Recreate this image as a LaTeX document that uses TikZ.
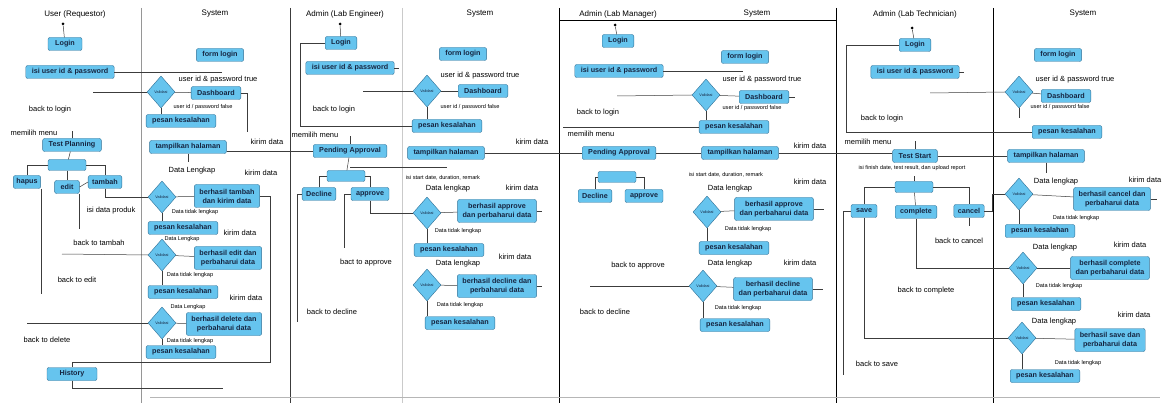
\documentclass[tikz,border=0pt]{standalone}
\usepackage{fontspec}
\setmainfont{Liberation Sans}
\usepackage{tikz}
\usetikzlibrary{shapes,arrows,positioning}

\definecolor{actfill}{RGB}{102,196,238}
\definecolor{actline}{RGB}{48,112,150}
\definecolor{acttext}{RGB}{22,38,66}
\definecolor{flowline}{RGB}{60,60,60}
\definecolor{lanegray}{RGB}{150,150,150}

\tikzset{
    act/.style={rectangle, rounded corners=2pt, draw=actline, fill=actfill, text=acttext,
        font=\bfseries\fontsize{7.2}{8}\selectfont, inner xsep=6pt, inner ysep=2pt, minimum height=13pt},
    acttwo/.style={act, align=center, font=\bfseries\fontsize{7.2}{9}\selectfont, inner xsep=5pt, minimum height=23pt},
    forkbar/.style={act, minimum width=38pt, minimum height=11pt},
    validasi/.style={diamond, draw=actline, fill=actfill, text=acttext, minimum width=28pt,
        minimum height=32pt, inner sep=0pt, font=\fontsize{3.8}{4}\selectfont},
    lanehead/.style={font=\fontsize{8}{9}\selectfont, inner sep=1pt},
    lbl/.style={font=\fontsize{7.5}{8.5}\selectfont, inner sep=1pt},
    smalltxt/.style={font=\fontsize{5.6}{6}\selectfont, inner sep=0.5pt},
    flow/.style={draw=flowline, line width=0.5pt},
    startdot/.style={circle, fill=black, inner sep=0pt, minimum size=3pt}
}

\begin{document}
\begin{tikzpicture}[x=1pt, y=-1pt, >=stealth]

                \useasboundingbox (0,0) rectangle (1174,403);

                % Lajur
                \draw[lanegray] (141,8) -- (141,403);
                \draw[flowline] (290,8) -- (290,403);
                \draw[lanegray!50] (402,8) -- (402,403);
                \draw[black, line width=0.8pt] (559,8) -- (559,403);
                \draw[black] (836,8) -- (836,403);
                \draw[black] (993,8) -- (993,403);
                \draw[black] (559,20) -- (836,20);
                \draw[lanegray!70] (150,397) -- (1160,397);

                \node[lanehead] (hUser) at (75,14) {User (Requestor)};
                \node[lanehead] (hSys1) at (215,14) {System};
                \node[lanehead] (hEng) at (345,14) {Admin (Lab Engineer)};
                \node[lanehead] (hSys2) at (480,14) {System};
                \node[lanehead] (hMan) at (618,14) {Admin (Lab Manager)};
                \node[lanehead] (hSys3) at (757,14) {System};
                \node[lanehead] (hTech) at (915,14) {Admin (Lab Technician)};
                \node[lanehead] (hSys4) at (1083,14) {System};

                % User (Requestor)
                \node[startdot] (s1) at (63,24) {};
                \node[act, minimum width=34pt] (login1) at (65,44) {Login};
                \node[act] (isi1) at (70,72) {isi user id \& password};
                \node[lbl] (backlogin1) at (50,110) {back to login};
                \node[lbl] (menu1) at (34,133) {memilih menu};
                \node[act] (tp1) at (72,145) {Test Planning};
                \node[forkbar] (fork1) at (67,165) {};
                \node[act, inner xsep=3pt] (hapus) at (27,182) {hapus};
                \node[act] (edit) at (67,187) {edit};
                \node[act, inner xsep=4pt] (tambah) at (105,182) {tambah};
                \node[lbl] (isiproduk) at (111,211) {isi data produk};
                \node[lbl] (backtambah) at (99,243) {back to tambah};
                \node[lbl] (backedit) at (77,280) {back to edit};
                \node[lbl] (backdelete) at (47,340) {back to delete};
                \node[act, minimum width=50pt] (hist) at (72,374) {History};

                % System (User)
                \node[act] (flog1) at (220,55) {form login};
                \node[lbl] (true1) at (218,80) {user id \& password true};
                \node[validasi] (val1) at (161,92) {Validasi};
                \node[act] (dash1) at (216,93) {Dashboard};
                \node[smalltxt] (false1) at (203,107) {user id / password false};
                \node[act] (pes1) at (181,121) {pesan kesalahan};
                \node[act] (tamp1) at (188,147) {tampilkan halaman};
                \node[lbl] (kirim1) at (267,142) {kirim data};
                \node[lbl] (lengkap1) at (192,171) {Data Lengkap};
                \node[lbl] (kirim2) at (261,173) {kirim data};
                \node[validasi] (val2) at (162,197) {Validasi};
                \node[acttwo] (bt) at (227,196) {berhasil tambah\\dan kirim data};
                \node[smalltxt] (tidak2) at (195,212) {Data tidak lengkap};
                \node[act] (pes2) at (183,228) {pesan kesalahan};
                \node[lbl] (kirim3) at (240,233) {kirim data};
                \node[smalltxt] (lengkap3) at (182,239) {Data Lengkap};
                \node[validasi] (val3) at (162,255) {Validasi};
                \node[acttwo] (be) at (228,258) {berhasil edit dan\\perbaharui data};
                \node[smalltxt] (tidak3) at (190,275) {Data tidak lengkap};
                \node[act] (pes3) at (183,292) {pesan kesalahan};
                \node[lbl] (kirim4) at (246,298) {kirim data};
                \node[smalltxt] (lengkap4) at (188,307) {Data Lengkap};
                \node[validasi] (val4) at (162,323) {Validasi};
                \node[acttwo] (bd) at (224,324) {berhasil delete dan\\perbaharui data};
                \node[smalltxt] (tidak4) at (190,341) {Data tidak lengkap};
                \node[act] (pes4) at (181,352) {pesan kesalahan};

                % Admin (Lab Engineer)
                \node[startdot] (s3) at (340,24) {};
                \node[act] (login3) at (341,43) {Login};
                \node[act] (isi3) at (350,68) {isi user id \& password};
                \node[lbl] (backlogin3) at (334,110) {back to login};
                \node[lbl] (menu3) at (315,135) {memilih menu};
                \node[act] (pend2) at (350,151) {Pending Approval};
                \node[forkbar] (fork3) at (346,176) {};
                \node[act, inner xsep=4pt] (dec3) at (319,194) {Decline};
                \node[act, inner xsep=5pt] (appr3) at (370,194) {approve};
                \node[lbl] (backappr3) at (366,263) {bact to approve};
                \node[lbl] (backdec3) at (332,312) {back to decline};

                % System (Lab Engineer)
                \node[act] (flog4) at (463,54) {form login};
                \node[lbl] (true4) at (480,76) {user id \& password true};
                \node[validasi] (val4a) at (427,91) {Validasi};
                \node[act] (dash4) at (483,91) {Dashboard};
                \node[smalltxt] (false4) at (470,107) {user id / password false};
                \node[act] (pes4a) at (447,126) {pesan kesalahan};
                \node[act] (tamp4) at (446,153) {tampilkan halaman};
                \node[lbl] (kirim5) at (532,142) {kirim data};
                \node[smalltxt] (isistart4) at (443,178) {isi start date, duration, remark};
                \node[lbl] (lengkap5) at (448,189) {Data lengkap};
                \node[lbl] (kirim6) at (522,188) {kirim data};
                \node[validasi] (val5) at (427,213) {Validasi};
                \node[acttwo] (ba5) at (497,211) {berhasil approve\\dan perbaharui data};
                \node[smalltxt] (tidak5) at (458,231) {Data tidak lengkap};
                \node[act] (pes5) at (449,250) {pesan kesalahan};
                \node[lbl] (kirim7) at (515,257) {kirim data};
                \node[lbl] (lengkap6) at (458,264) {Data lengkap};
                \node[validasi] (val6) at (427,285) {Validasi};
                \node[acttwo] (bdc6) at (497,286) {berhasil decline dan\\perbaharui data};
                \node[smalltxt] (tidak6) at (460,305) {Data tidak lengkap};
                \node[act] (pes6) at (460,323) {pesan kesalahan};

                % Admin (Lab Manager)
                \node[startdot] (s5) at (615,25) {};
                \node[act] (login5) at (618,41) {Login};
                \node[act] (isi5) at (619,71) {isi user id \& password};
                \node[lbl] (backlogin5) at (598,113) {back to login};
                \node[lbl] (menu5) at (591,134) {memilih menu};
                \node[act] (pend5) at (619,153) {Pending Approval};
                \node[forkbar] (fork5) at (617,177) {};
                \node[act, inner xsep=4pt] (dec5) at (595,196) {Decline};
                \node[act, inner xsep=5pt] (appr5) at (644,196) {approve};
                \node[lbl] (backappr5) at (638,266) {back to approve};
                \node[lbl] (backdec5) at (605,312) {back to decline};

                % System (Lab Manager)
                \node[act] (flog5) at (745,57) {form login};
                \node[lbl] (true5) at (762,80) {user id \& password true};
                \node[validasi] (val7) at (706,95) {Validasi};
                \node[act] (dash7) at (764,97) {Dashboard};
                \node[smalltxt] (false7) at (752,108) {user id / password false};
                \node[act] (pes7) at (734,127) {pesan kesalahan};
                \node[act] (tamp7) at (740,153) {tampilkan halaman};
                \node[lbl] (kirim8) at (810,146) {kirim data};
                \node[smalltxt] (isistart7) at (726,175) {isi start date, duration, remark};
                \node[lbl] (lengkap8) at (730,189) {Data lengkap};
                \node[lbl] (kirim9) at (810,182) {kirim data};
                \node[validasi] (val8) at (707,212) {Validasi};
                \node[acttwo] (ba8) at (774,209) {berhasil approve\\dan perbaharui data};
                \node[smalltxt] (tidak8) at (748,229) {Data tidak lengkap};
                \node[act] (pes8) at (734,248) {pesan kesalahan};
                \node[lbl] (kirim10) at (800,263) {kirim data};
                \node[lbl] (lengkap9) at (730,264) {Data lengkap};
                \node[validasi] (val9) at (703,286) {Validasi};
                \node[acttwo] (bdc9) at (773,289) {berhasil decline\\dan perbaharui data};
                \node[smalltxt] (tidak9) at (738,308) {Data tidak lengkap};
                \node[act] (pes9) at (735,325) {pesan kesalahan};

                % Admin (Lab Technician)
                \node[startdot] (s6) at (912,28) {};
                \node[act] (login6) at (915,45) {Login};
                \node[act] (isi6) at (915,72) {isi user id \& password};
                \node[lbl] (backlogin6) at (882,119) {back to login};
                \node[lbl] (menu6) at (868,142) {memilih menu};
                \node[act] (tstart) at (915,156) {Test Start};
                \node[smalltxt] (isifinish) at (912,168) {isi finish date, test result, dan upload report};
                \node[forkbar] (fork6) at (914,187) {};
                \node[act, inner xsep=5pt] (save) at (864,211) {save};
                \node[act, inner xsep=5pt] (compl) at (916,212) {complete};
                \node[act, inner xsep=4pt] (cancel) at (969,211) {cancel};
                \node[lbl] (backcancel) at (959,241) {back to cancel};
                \node[lbl] (backcompl) at (926,291) {back to complete};
                \node[lbl] (backsave) at (877,364) {back to save};

                % System (Lab Technician)
                \node[act] (flog10) at (1058,55) {form login};
                \node[lbl] (true10) at (1075,80) {user id \& password true};
                \node[validasi] (val10) at (1019,92) {Validasi};
                \node[act] (dash10) at (1066,96) {Dashboard};
                \node[smalltxt] (false10) at (1060,107) {user id / password false};
                \node[act] (pes10) at (1067,132) {pesan kesalahan};
                \node[act] (tamp10) at (1046,156) {tampilkan halaman};
                \node[lbl] (lengkap11) at (1056,182) {Data lengkap};
                \node[lbl] (kirim11) at (1145,180) {kirim data};
                \node[validasi] (val11) at (1019,194) {Validasi};
                \node[acttwo] (bc11) at (1112,199) {berhasil cancel dan\\perbaharui data};
                \node[smalltxt] (tidak11) at (1076,218) {Data tidak lengkap};
                \node[act] (pes11) at (1040,231) {pesan kesalahan};
                \node[lbl] (lengkap12) at (1055,248) {Data lengkap};
                \node[lbl] (kirim12) at (1130,245) {kirim data};
                \node[validasi] (val12) at (1023,268) {Validasi};
                \node[acttwo] (bco12) at (1110,268) {berhasil complete\\dan perbaharui data};
                \node[smalltxt] (tidak12) at (1059,286) {Data tidak lengkap};
                \node[act] (pes12) at (1046,304) {pesan kesalahan};
                \node[lbl] (lengkap13) at (1054,322) {Data lengkap};
                \node[lbl] (kirim13) at (1134,315) {kirim data};
                \node[validasi] (val13) at (1022,338) {Validasi};
                \node[acttwo] (bs13) at (1110,340) {berhasil save dan\\perbaharui data};
                \node[smalltxt] (tidak13) at (1078,363) {Data tidak lengkap};
                \node[act] (pes13) at (1045,376) {pesan kesalahan};

                % Titik bebas
                \coordinate (c1a) at (222,72);
                \coordinate (c1b) at (93,92);
                \coordinate (c1c) at (62,254);
                \coordinate (c1d) at (27,323);
                \coordinate (c2a) at (247,132);
                \coordinate (c2h) at (120,362);
                \coordinate (c2k) at (223,388);
                \coordinate (c3a) at (300,0);
                \coordinate (c3b) at (363,91);
                \coordinate (c3j) at (447,167);
                \coordinate (c3d) at (297,322);
                \coordinate (c3e) at (344,248);
                \coordinate (c5a) at (743,71);
                \coordinate (c5b) at (617,96);
                \coordinate (c5c) at (563,127);
                \coordinate (c5d) at (590,286);
                \coordinate (c6a) at (846,0);
                \coordinate (c6b) at (930,93);
                \coordinate (c6s) at (843,375);

                % Alur User
                \draw[flow] (s1) -- (login1);
                \draw[flow] (isi1.east) -- (c1a);
                \draw[flow] (c1b) -- (val1.west);
                \draw[flow] (tp1.north) -- ++(0,-7);
                \draw[flow] (tp1) -- (fork1);
                \draw[flow] (fork1.west) -| (hapus.north);
                \draw[flow] (fork1) -- (edit);
                \draw[flow] (fork1.east) -| (tambah.north);
                \draw[flow] (edit.east) -- (tambah.west);
                \draw[flow] (tambah.south) |- (val2.west);
                \draw[flow] (edit.south east) -- ++(0,35);
                \draw[flow] (c1c) -- (val3.west);
                \draw[flow] (hapus.south east) -- ++(0,105);
                \draw[flow] (c1d) -- (val4.west);

                % Alur System (User)
                \draw[flow] (val1) -- (dash1);
                \draw[flow] (val1.south) -- (val1.south |- pes1.north);
                \draw[flow] (dash1.east) -| (c2a);
                \draw[flow] (tamp1.east |- pend2) -- (pend2.west);
                \draw[flow] (tamp1.south) -- ++(0,8);
                \draw[flow] (val2) -- (bt);
                \draw[flow] (val2.south) -- (val2.south |- pes2.north);
                \draw[flow] (bt.east) -- ++(10,0) coordinate (bt1) -- (bt1 |- c2h) -| (hist.north);
                \draw[flow] (hist.south) |- (c2k);
                \draw[flow] (val3) -- (be);
                \draw[flow] (val3.south) -- (val3.south |- pes3.north);
                \draw[flow] (val4) -- (bd);
                \draw[flow] (val4.south) -- (val4.south |- pes4.north);

                % Alur Lab Engineer
                \draw[flow] (s3) -- (login3);
                \draw[flow] (pes4a.west) -- (pes4a.west -| c3a) |- (login3.west);
                \draw[flow] (isi3.east) -- ++(5,0);
                \draw[flow] (c3b) -- (val4a.west);
                \draw[flow] (pend2.north) -- ++(0,-8);
                \draw[flow] (pend2) -- (fork3);
                \draw[flow] (pend2.south |- c3j) -- (c3j);
                \draw[flow] (fork3.west) -| (dec3.north);
                \draw[flow] (fork3.east) -| (appr3.north);
                \draw[flow] (appr3.south) |- (val5.west);
                \draw[flow] (dec3.west) -| (c3d);
                \draw[flow] (appr3.west) -| (c3e);
                \draw[flow] (val4a) -- (dash4);
                \draw[flow] (val4a.south) -- (val4a.south |- pes4a.north);
                \draw[flow] (tamp4) -- (pend5);
                \draw[flow] (val5) -- (ba5);
                \draw[flow] (val5.south) -- (val5.south |- pes5.north);
                \draw[flow] (ba5.east) -- ++(5,0);
                \draw[flow] (val6) -- (bdc6);
                \draw[flow] (val6.south) -- (val6.south |- pes6.north);
                \draw[flow] (bdc6.east) -- ++(5,0);

                % Alur Lab Manager
                \draw[flow] (s5) -- (login5);
                \draw[flow] (isi5.east) -- (c5a);
                \draw[flow] (c5b) -- (val7.west);
                \draw[flow] (val7) -- (dash7);
                \draw[flow] (dash7.east) -- ++(6,0);
                \draw[flow] (val7.south) -- (val7.south |- pes7.north);
                \draw[flow] (c5c) -- (pes7.west);
                \draw[flow] (pend5) -- (tamp7);
                \draw[flow] (tamp7.east) -- (tamp7.east -| tstart.west);
                \draw[flow] (fork5.west) -| (dec5.north);
                \draw[flow] (fork5.east) -| (appr5.north);
                \draw[flow] (val8) -- (ba8);
                \draw[flow] (ba8.east) -- ++(10,0);
                \draw[flow] (val8.south) -- (val8.south |- pes8.north);
                \draw[flow] (c5d) -- (val9.west);
                \draw[flow] (val9) -- (bdc9);
                \draw[flow] (bdc9.east) -- ++(10,0);
                \draw[flow] (val9.south) -- (val9.south |- pes9.north);

                % Alur Lab Technician
                \draw[flow] (s6) -- (login6);
                \draw[flow] (pes10.west) -- (pes10.west -| c6a) |- (login6.west);
                \draw[flow] (isi6.east) -- ++(5,0);
                \draw[flow] (c6b) -- (val10.west);
                \draw[flow] (tstart.north) -- ++(0,-8);
                \draw[flow] (tstart) -- (tamp10);
                \draw[flow] (fork6.north) -- ++(0,-5);
                \draw[flow] (fork6.west) -| (save.north);
                \draw[flow] (fork6) -- (compl);
                \draw[flow] (fork6.east) -| (cancel.north);
                \draw[flow] (save.west) -| (c6s);
                \draw[flow] (cancel.south) -- ++(0,8);
                \draw[flow] (cancel.east) -- ++(8,0) |- (val11.west);
                \draw[flow] (compl.south) |- (val12.west);
                \draw[flow] (save.south) |- (val13.west);
                \draw[flow] (val10) -- (dash10);
                \draw[flow] (val10.south) -- ++(0,10);
                \draw[flow] (tamp10.south) -- ++(0,10);
                \draw[flow] (val11) -- (bc11);
                \draw[flow] (bc11.east) -- ++(6,0);
                \draw[flow] (val11.south) -- (val11.south |- pes11.north);
                \draw[flow] (val12) -- (bco12);
                \draw[flow] (val12.south) -- (val12.south |- pes12.north);
                \draw[flow] (val13) -- (bs13);
                \draw[flow] (val13.south) -- (val13.south |- pes13.north);

            \end{tikzpicture}
\end{document}
